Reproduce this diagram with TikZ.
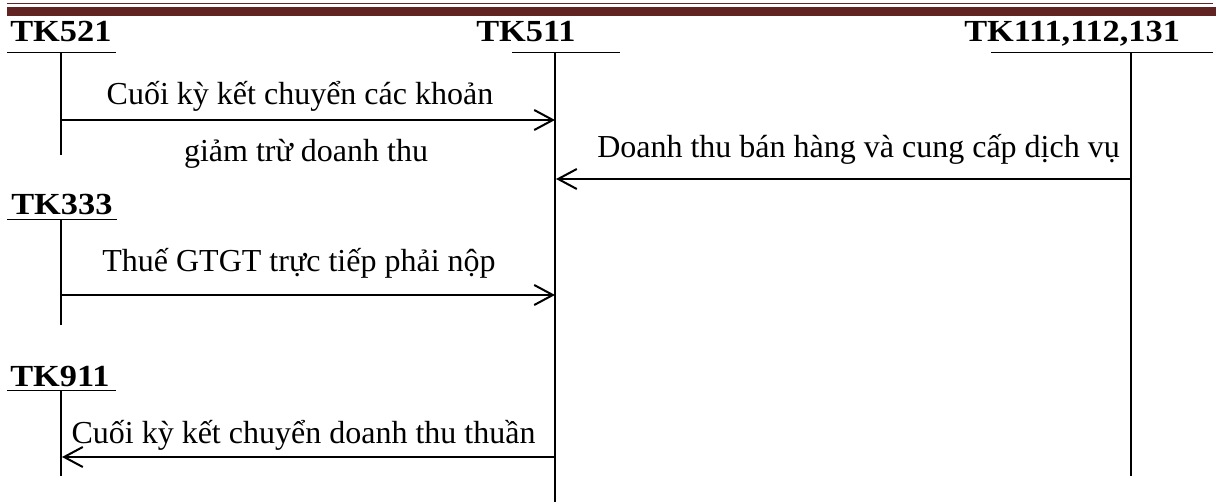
\documentclass[tikz,border=0pt]{standalone}
\usepackage{fontspec}
\setmainfont{Liberation Serif}
\usetikzlibrary{arrows.meta}
\definecolor{bandred}{HTML}{622423}
\begin{document}
\begin{tikzpicture}[x=0.75pt,y=-0.75pt,
  acct/.style={font=\fontsize{23}{26}\selectfont\bfseries, inner sep=0pt, anchor=base west, xscale=1.12},
  txt/.style={font=\fontsize{24}{28}\selectfont, inner sep=0pt, anchor=base},
  uline/.style={line width=1.3pt},
  tline/.style={line width=1.1pt},
  flow/.style={line width=1.5pt, -{Straight Barb[length=14pt,width=15pt,line width=1.5pt]}}]
\useasboundingbox (0,0) rectangle (1216,502);
% header rules
\fill[bandred] (7,6.7) rectangle (1216,15.7);
\draw[bandred, line width=0.9pt] (7,3.8) -- (1213,3.8);
% account labels
\node[acct] (l521) at (10,41.5) {TK521};
\node[acct] (l511) at (476,41.5) {TK511};
\node[acct] (l111) at (964,41.5) {TK111,112,131};
\node[acct] (l333) at (11,215) {TK333};
\node[acct] (l911) at (10,386) {TK911};
% underlines
\coordinate (u521a) at (7,52.5);   \coordinate (u521b) at (116,52.5);
\coordinate (u511a) at (512,52.5); \coordinate (u511b) at (620,52.5);
\coordinate (u111a) at (991,52.5); \coordinate (u111b) at (1213,52.5);
\coordinate (u333a) at (7,219.5);  \coordinate (u333b) at (117,219.5);
\coordinate (u911a) at (7,390.5);  \coordinate (u911b) at (116,390.5);
\draw[uline] (u521a) -- (u521b);
\draw[uline] (u511a) -- (u511b);
\draw[uline] (u111a) -- (u111b);
\draw[uline] (u333a) -- (u333b);
\draw[uline] (u911a) -- (u911b);
% vertical T-account lines
\coordinate (v521t) at (61,52.5);   \coordinate (v521b) at (61,155);
\coordinate (v511t) at (555,52.5);  \coordinate (v511b) at (555,502);
\coordinate (v111t) at (1131,52.5); \coordinate (v111b) at (1131,476);
\coordinate (v333t) at (61,219.5);  \coordinate (v333b) at (61,325);
\coordinate (v911t) at (61,390.5);  \coordinate (v911b) at (61,476);
\draw[tline] (v521t) -- (v521b);
\draw[tline] (v511t) -- (v511b);
\draw[tline] (v111t) -- (v111b);
\draw[tline] (v333t) -- (v333b);
\draw[tline] (v911t) -- (v911b);
% arrow end points on the account lines
\coordinate (a1s) at (61,120);   \coordinate (a1e) at (555,120);
\coordinate (a2s) at (1131,179); \coordinate (a2e) at (556,179);
\coordinate (a3s) at (61,295);   \coordinate (a3e) at (555,295);
\coordinate (a4s) at (555,457);  \coordinate (a4e) at (62,457);
\draw[flow] (a1s) -- (a1e);
\draw[flow] (a2s) -- (a2e);
\draw[flow] (a3s) -- (a3e);
\draw[flow] (a4s) -- (a4e);
% texts
\node[txt] (t1a) at (300,105) {Cuối kỳ kết chuyển các khoản};
\node[txt] (t1b) at (306,162) {giảm trừ doanh thu};
\node[txt] (t2) at (858.5,158) {Doanh thu bán hàng và cung cấp dịch vụ};
\node[txt] (t3) at (299,272) {Thuế GTGT trực tiếp phải nộp};
\node[txt] (t4) at (303.5,443) {Cuối kỳ kết chuyển doanh thu thuần};
\end{tikzpicture}
\end{document}
